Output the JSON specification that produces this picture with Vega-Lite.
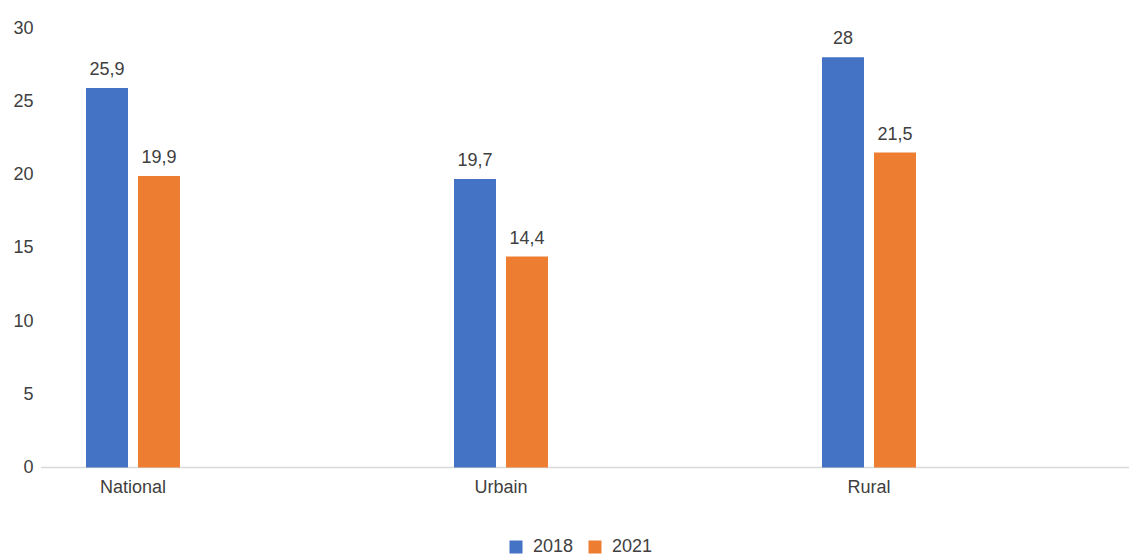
{
  "$schema": "https://vega.github.io/schema/vega-lite/v6.json",
  "autosize": "none",
  "width": 1088,
  "height": 439.5,
  "padding": {"left": 41, "top": 28, "right": 0, "bottom": 89.5},
  "background": "white",
  "config": {
    "view": {"stroke": null},
    "font": "Liberation Sans, Arial, sans-serif",
    "locale": {"number": {"decimal": ",", "thousands": " ", "grouping": [3], "currency": ["", " €"]}}
  },
  "data": {
    "values": [
      {"zone": "National", "year": "2018", "value": 25.9},
      {"zone": "National", "year": "2021", "value": 19.9},
      {"zone": "Urbain", "year": "2018", "value": 19.7},
      {"zone": "Urbain", "year": "2021", "value": 14.4},
      {"zone": "Rural", "year": "2018", "value": 28},
      {"zone": "Rural", "year": "2021", "value": 21.5}
    ]
  },
  "layer": [
    {
      "data": {"values": [{"base": 0}]},
      "mark": {"type": "rule", "color": "#d9d9d9", "strokeWidth": 1.5},
      "encoding": {
        "x": {"value": 0},
        "x2": {"value": {"expr": "width"}},
        "y": {
          "field": "base", "type": "quantitative",
          "scale": {"domain": [0, 30], "nice": false},
          "axis": {"title": null, "values": [0, 5, 10, 15, 20, 25, 30], "grid": false, "domain": false, "ticks": false, "labelFontSize": 18, "labelColor": "#404040", "labelPadding": 8}
        }
      }
    },
    {
      "mark": {"type": "bar"},
      "encoding": {
        "x": {
          "field": "zone", "type": "nominal", "sort": ["National", "Urbain", "Rural"],
          "scale": {"range": [45, 875], "paddingInner": 0.7446, "paddingOuter": 0},
          "axis": {"title": null, "labelAngle": 0, "ticks": false, "domain": false, "labelFontSize": 18, "labelColor": "#404040", "labelPadding": 11}
        },
        "xOffset": {"field": "year", "type": "nominal", "scale": {"paddingInner": 0.1923, "paddingOuter": 0}},
        "y": {"field": "value", "type": "quantitative"},
        "color": {
          "field": "year", "type": "nominal",
          "scale": {"domain": ["2018", "2021"], "range": ["#4472C4", "#ED7D31"]},
          "legend": {"title": null, "orient": "none", "direction": "horizontal", "legendX": 466, "legendY": 510, "symbolType": "square", "symbolSize": 169, "symbolStrokeWidth": 0, "labelFontSize": 18, "labelColor": "#404040", "labelOffset": 8, "columnPadding": 12}
        }
      }
    },
    {
      "mark": {"type": "text", "baseline": "alphabetic", "dy": -13, "fontSize": 18, "color": "#404040"},
      "encoding": {
        "x": {"field": "zone", "type": "nominal", "sort": ["National", "Urbain", "Rural"]},
        "xOffset": {"field": "year", "type": "nominal"},
        "y": {"field": "value", "type": "quantitative"},
        "text": {"field": "value", "type": "quantitative", "format": ".3~r"}
      }
    }
  ]
}
